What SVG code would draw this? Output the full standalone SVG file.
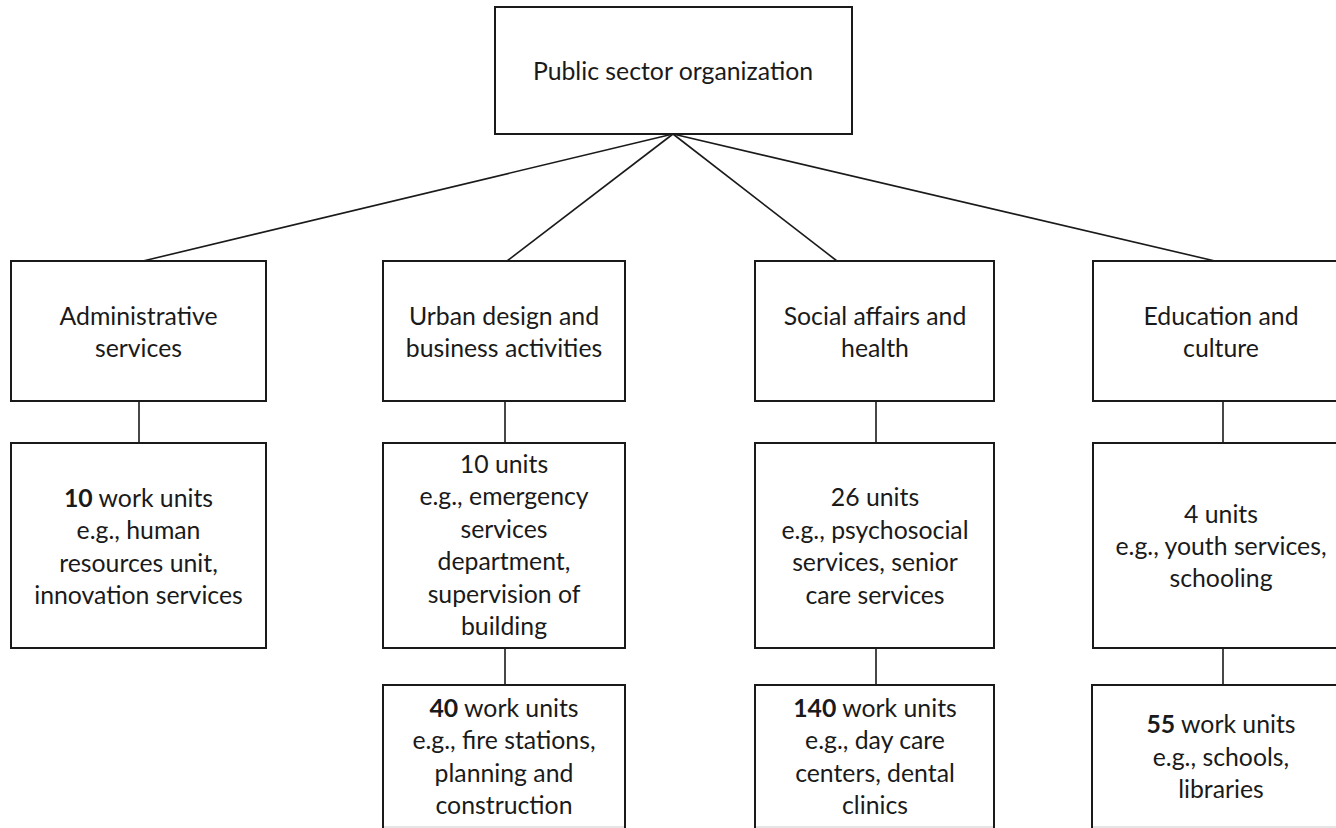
<svg xmlns="http://www.w3.org/2000/svg" width="1336" height="828" viewBox="0 0 1336 828">
<style>
.box{fill:#fff;stroke:#1a1a1a;stroke-width:2}
.con{stroke:#1a1a1a;stroke-width:1.6;fill:none}
text{font-family:Lato,"Liberation Sans",sans-serif;font-size:24.8px;fill:#1a1a1a;text-anchor:middle}
.b{font-weight:bold}
.cut{stroke:#dddddd;stroke-width:1.5}
</style>
<rect width="1336" height="828" fill="#fff"/>
<g id="connectors">
<line class="con" x1="673" y1="134" x2="143" y2="261"/>
<line class="con" x1="673" y1="134" x2="507" y2="261"/>
<line class="con" x1="673" y1="134" x2="837" y2="261"/>
<line class="con" x1="673" y1="134" x2="1215" y2="261"/>
<line class="con" x1="139" y1="401" x2="139" y2="443"/>
<line class="con" x1="505" y1="401" x2="505" y2="443"/>
<line class="con" x1="876" y1="401" x2="876" y2="443"/>
<line class="con" x1="1223" y1="401" x2="1223" y2="443"/>
<line class="con" x1="505" y1="648" x2="505" y2="685"/>
<line class="con" x1="876" y1="648" x2="876" y2="685"/>
<line class="con" x1="1223" y1="648" x2="1223" y2="685"/>
</g>
<g id="root">
<rect class="box" x="495" y="7" width="357" height="127"/>
<text x="673" y="80">Public sector organization</text>
</g>
<g id="admin">
<rect class="box" x="11" y="261" width="255" height="140"/>
<text x="138.5" y="325">Administrative</text>
<text x="138.5" y="357">services</text>
</g>
<g id="urban">
<rect class="box" x="383" y="261" width="242" height="140"/>
<text x="504" y="325">Urban design and</text>
<text x="504" y="357">business activities</text>
</g>
<g id="social">
<rect class="box" x="755" y="261" width="239" height="140"/>
<text x="875" y="325">Social affairs and</text>
<text x="875" y="357">health</text>
</g>
<g id="education">
<rect class="box" x="1093" y="261" width="257" height="140"/>
<text x="1221" y="325">Education and</text>
<text x="1221" y="357">culture</text>
</g>
<g id="admin-units">
<rect class="box" x="11" y="443" width="255" height="205"/>
<text x="138.5" y="507"><tspan class="b">10</tspan> work units</text>
<text x="138.5" y="539">e.g., human</text>
<text x="138.5" y="572">resources unit,</text>
<text x="138.5" y="604">innovation services</text>
</g>
<g id="urban-units">
<rect class="box" x="383" y="443" width="242" height="205"/>
<text x="504" y="473">10 units</text>
<text x="504" y="505">e.g., emergency</text>
<text x="504" y="538">services</text>
<text x="504" y="570">department,</text>
<text x="504" y="603">supervision of</text>
<text x="504" y="635">building</text>
</g>
<g id="social-units">
<rect class="box" x="755" y="443" width="239" height="205"/>
<text x="875" y="506">26 units</text>
<text x="875" y="539">e.g., psychosocial</text>
<text x="875" y="571">services, senior</text>
<text x="875" y="604">care services</text>
</g>
<g id="education-units">
<rect class="box" x="1093" y="443" width="257" height="205"/>
<text x="1221" y="523">4 units</text>
<text x="1221" y="555">e.g., youth services,</text>
<text x="1221" y="587">schooling</text>
</g>
<g id="urban-work">
<rect class="box" x="383" y="685" width="242" height="160"/>
<line class="cut" x1="384" y1="827" x2="624" y2="827"/>
<text x="504" y="717"><tspan class="b">40</tspan> work units</text>
<text x="504" y="749">e.g., fire stations,</text>
<text x="504" y="782">planning and</text>
<text x="504" y="814">construction</text>
</g>
<g id="social-work">
<rect class="box" x="755" y="685" width="239" height="160"/>
<line class="cut" x1="756" y1="827" x2="993" y2="827"/>
<text x="875" y="717"><tspan class="b">140</tspan> work units</text>
<text x="875" y="749">e.g., day care</text>
<text x="875" y="782">centers, dental</text>
<text x="875" y="814">clinics</text>
</g>
<g id="education-work">
<rect class="box" x="1092" y="685" width="258" height="160"/>
<line class="cut" x1="1093" y1="827" x2="1336" y2="827"/>
<text x="1221" y="733"><tspan class="b">55</tspan> work units</text>
<text x="1221" y="766">e.g., schools,</text>
<text x="1221" y="798">libraries</text>
</g>
</svg>
